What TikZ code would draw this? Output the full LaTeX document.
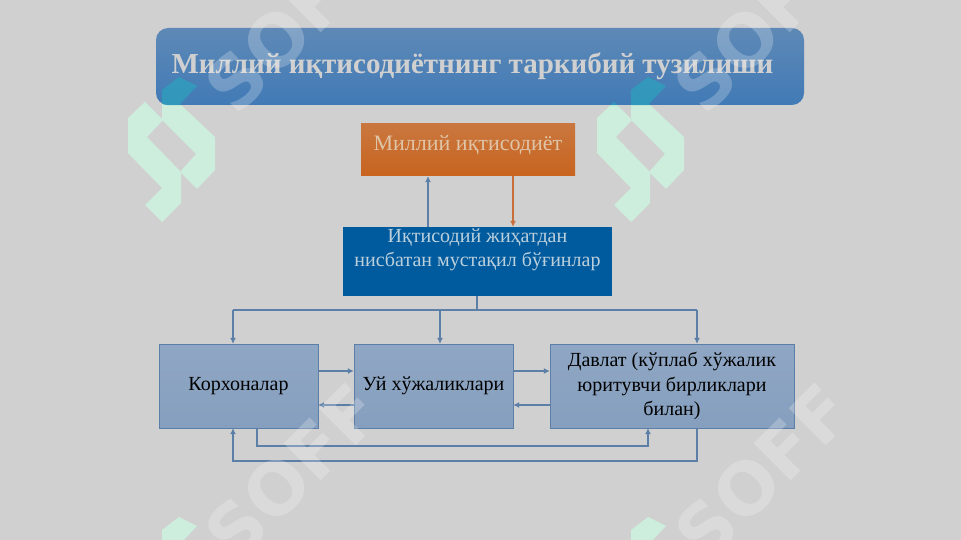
\documentclass[tikz,border=0pt]{standalone}
\usepackage{fontspec}
\setmainfont{Liberation Serif}
\newfontfamily\belgi{DejaVu Sans}
\usetikzlibrary{arrows.meta}
\definecolor{fon}{HTML}{D0D0D0}
\definecolor{chiziq}{HTML}{5B7FA6}
\definecolor{yashil}{HTML}{CDEEDD}
\definecolor{feruza}{HTML}{2CA1BD}
\definecolor{kokust}{HTML}{5E89B6}
\definecolor{kokost}{HTML}{417AB6}
\definecolor{toqust}{HTML}{C9773F}
\definecolor{toqost}{HTML}{C8641F}
\definecolor{toqmatn}{HTML}{E0C4A8}
\definecolor{toqchiziq}{HTML}{C8703C}
\definecolor{moviy}{HTML}{005A9E}
\definecolor{moviymatn}{HTML}{BCD0DC}
\definecolor{pastust}{HTML}{8FA7C4}
\definecolor{pastost}{HTML}{869FBE}
\tikzset{
  sathbox/.style={rectangle,inner sep=0pt,align=center,font=\fontsize{20}{24.5}\selectfont},
  pastbox/.style={sathbox,draw=chiziq,top color=pastust,bottom color=pastost,text=black,minimum height=84pt},
  link/.style={draw=chiziq,line width=1.1pt,-{Latex[length=6pt,width=6pt]}},
  yozuv/.style={text=white,opacity=0.23,rotate=45,font=\belgi\bfseries\fontsize{72}{72}\selectfont}
}
\newcommand{\logoshape}{
  (145,102) -- (128,118) -- (128,153) -- (162,188) -- (145,205) -- (162,222) -- (181,203) -- (181,172) -- (147,137) -- (163,120) -- cycle
  (162,90) -- (179,77) -- (197,86) -- (180,104) -- (215,137) -- (215,170) -- (197,189) -- (180,172) -- (196,154) -- (162,120) -- cycle
}
\begin{document}
\begin{tikzpicture}[x=1pt,y=-1pt]
\fill[fon] (0,0) rectangle (961,540);
\useasboundingbox (0,0) rectangle (961,540);
% green marks
\foreach \dx/\dy in {0/0,469/0,0/440,469/440}
  \fill[yashil,shift={(\dx,\dy)}] \logoshape;
% boxes
\node[sathbox,rounded corners=12pt,top color=kokust,bottom color=kokost,minimum width=648pt,minimum height=77pt,text=fon,
  font=\bfseries\fontsize{29}{32}\selectfont] (sarlavha) at (480,66.5){\raisebox{-2pt}{Миллий иқтисодиётнинг таркибий тузилиши}\hspace*{15pt}};
\node[sathbox,top color=toqust,bottom color=toqost,minimum width=214pt,minimum height=52pt,text=toqmatn,
  font=\fontsize{22}{26}\selectfont] (milliy) at (468,150){\raisebox{15pt}{Миллий иқтисодиёт}};
\node[sathbox,fill=moviy,minimum width=269pt,minimum height=69pt,text=moviymatn] (bugin) at (477.5,261.5){Иқтисодий жиҳатдан\\нисбатан мустақил бўғинлар\\[3pt]};
\node[pastbox,minimum width=159pt] (korxona) at (238.5,386){\raisebox{-2pt}{Корхоналар}};
\node[pastbox,minimum width=159pt] (uy) at (433.5,386){\raisebox{-2pt}{Уй хўжаликлари}};
\node[pastbox,minimum width=244pt] (davlat) at (672,386){Давлат (кўплаб хўжалик\\юритувчи бирликлари\\билан)};
% helpers
\coordinate (yuqori) at (428,0);
\coordinate (pastga) at (513,0);
\coordinate (tugun) at (477,310);
\coordinate (aa) at (233,310);
\coordinate (bb) at (440,310);
\coordinate (cc) at (697,310);
\coordinate (ong) at (0,371);
\coordinate (chap) at (0,405);
\coordinate (p1) at (257,446);
\coordinate (p2) at (648,446);
\coordinate (q1) at (697,461);
\coordinate (q2) at (233,461);
% connectors
\draw[link] (bugin.north -| yuqori) -- (milliy.south -| yuqori);
\draw[link,draw=toqchiziq] (milliy.south -| pastga) -- (bugin.north -| pastga);
\draw[chiziq,line width=1.1pt] (bugin.south -| tugun) -- (tugun);
\draw[chiziq,line width=1.1pt] (aa) -- (cc);
\foreach \from/\to in {aa/korxona,bb/uy,cc/davlat}
  \draw[link] (\from) -- (\to.north -| \from);
\foreach \from/\to in {korxona/uy,uy/davlat}
  \draw[link] (\from.east |- ong) -- (\to.west |- ong);
\foreach \from/\to in {davlat/uy,uy/korxona}
  \draw[link] (\from.west |- chap) -- (\to.east |- chap);
\draw[link] (korxona.south -| p1) -- (p1) -- (p2) -- (davlat.south -| p2);
\draw[link] (davlat.south -| q1) -- (q1) -- (q2) -- (korxona.south -| q2);
% marks over the title
\begin{scope}
\clip[rounded corners=12pt] (sarlavha.north west) rectangle (sarlavha.south east);
\foreach \dx in {0,469}
  \fill[feruza,opacity=0.75,shift={(\dx,0)}] \logoshape;
\end{scope}
% white letters
\foreach \x/\y/\nom in {293/24/a,762/24/b,293/472/c,763/472/d}
  \node[yozuv] (soff\nom) at (\x,\y){SOFF};
\end{tikzpicture}
\end{document}
